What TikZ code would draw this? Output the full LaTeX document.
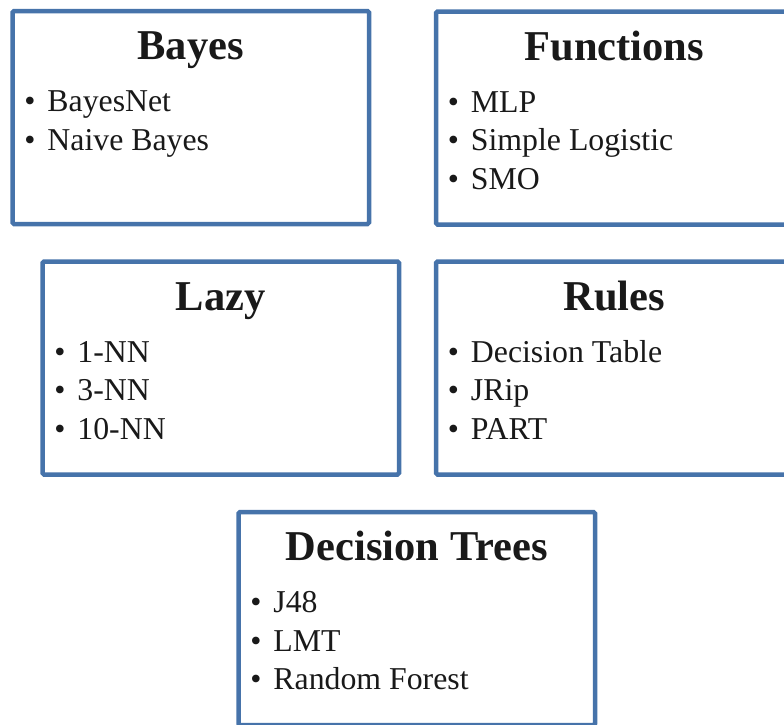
\documentclass[tikz,border=0pt]{standalone}
\usepackage{fontspec}
\setmainfont{Liberation Serif}
\usepackage{tikz}
\usetikzlibrary{calc}
\usetikzlibrary{positioning}
\definecolor{boxblue}{RGB}{70,115,170}
\tikzstyle{group} = [rectangle, draw=boxblue, line width=4.5pt, fill=white, rounded corners=1.5pt, minimum width=356.5pt, minimum height=213pt, inner sep=0]
\tikzstyle{heading} = [anchor=base, inner sep=0, font=\fontsize{42.5}{48}\selectfont\bfseries, text=black!90]
\tikzstyle{entry} = [anchor=base west, inner sep=0, font=\fontsize{31.8}{38.5}\selectfont, text=black!90]
\newcommand{\bul}[1]{\makebox[23pt][l]{\textbullet}#1}

\begin{document}
\begin{tikzpicture}[x=1pt, y=-1pt]
\useasboundingbox (0,0) rectangle (784,724);
\node [group] (bayes) at (190.75, 117.5) {};
\node [group] (func) at (614.25, 118) {};
\node [group] (lazy) at (220.75, 368) {};
\node [group] (rules) at (614.25, 368) {};
\node [group] (trees) at (416.75, 618.5) {};

\node [heading] (bayesT) at ($(bayes.north)+(0,51)$) {Bayes};
\node [entry] (bayes1) at ($(bayes.north west)+(14,103)$) {\bul{BayesNet}};
\node [entry] (bayes2) at ($(bayes1.base west)+(0,38.5)$) {\bul{Naive Bayes}};

\node [heading] (funcT) at ($(func.north)+(0,51)$) {Functions};
\node [entry] (func1) at ($(func.north west)+(14,103)$) {\bul{MLP}};
\node [entry] (func2) at ($(func1.base west)+(0,38.5)$) {\bul{Simple Logistic}};
\node [entry] (func3) at ($(func2.base west)+(0,38.5)$) {\bul{SMO}};

\node [heading] (lazyT) at ($(lazy.north)+(0,51)$) {Lazy};
\node [entry] (lazy1) at ($(lazy.north west)+(14,103)$) {\bul{1-NN}};
\node [entry] (lazy2) at ($(lazy1.base west)+(0,38.5)$) {\bul{3-NN}};
\node [entry] (lazy3) at ($(lazy2.base west)+(0,38.5)$) {\bul{10-NN}};

\node [heading] (rulesT) at ($(rules.north)+(0,51)$) {Rules};
\node [entry] (rules1) at ($(rules.north west)+(14,103)$) {\bul{Decision Table}};
\node [entry] (rules2) at ($(rules1.base west)+(0,38.5)$) {\bul{JRip}};
\node [entry] (rules3) at ($(rules2.base west)+(0,38.5)$) {\bul{PART}};

\node [heading] (treesT) at ($(trees.north)+(0,51)$) {Decision Trees};
\node [entry] (trees1) at ($(trees.north west)+(14,103)$) {\bul{J48}};
\node [entry] (trees2) at ($(trees1.base west)+(0,38.5)$) {\bul{LMT}};
\node [entry] (trees3) at ($(trees2.base west)+(0,38.5)$) {\bul{Random Forest}};
\end{tikzpicture}
\end{document}
